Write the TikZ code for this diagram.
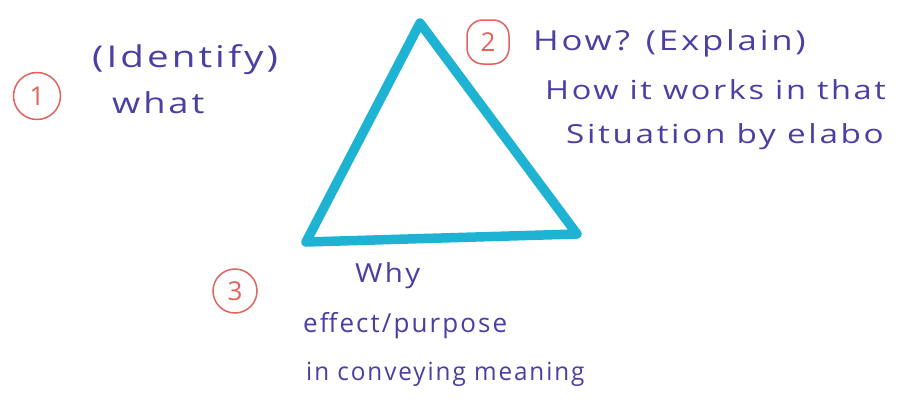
\documentclass[tikz,border=0pt]{standalone}
\usepackage{fontspec}
\newfontfamily\hand[LetterSpace=8]{Open Sans}
\definecolor{ink}{HTML}{4A3FA3}
\definecolor{marker}{HTML}{1FB3D3}
\definecolor{redpen}{HTML}{E2625C}
\newcommand{\hsc}[3]{\scalebox{#1}[#2]{#3}}
\tikzset{
  txt/.style={anchor=west, inner sep=0pt, text=ink, font=\hand\fontsize{25}{30}\selectfont},
  num/.style={circle, draw=redpen, line width=1.5pt, text=redpen, minimum size=40pt, inner sep=0pt, font=\hand\fontsize{26}{30}\selectfont},
  tri/.style={draw=marker, line width=9.5pt, line join=round, line cap=round}
}
\begin{document}
\begin{tikzpicture}[x=1pt,y=-1pt]
\useasboundingbox (0,0) rectangle (905,405);
\fill[white] (0,0) rectangle (905,405);
% triangle
\coordinate (A) at (420,23);
\coordinate (B) at (306,242);
\coordinate (C) at (577,234);
\draw[tri] (A) -- (C) -- (B) -- cycle;
% numbers
\node[num, minimum width=40pt, minimum height=47pt] (n1) at (37,96) {1};
\node[num, minimum width=42pt, minimum height=44pt, rounded corners=16pt, rectangle] (n2) at (488,42) {2};
\node[num, minimum width=41pt, minimum height=44pt] (n3) at (235,291) {3};
% texts
\node[txt] (t1a) at (92,60) {\hsc{1.54}{1.2}{(Identify)}};
\node[txt] (t1b) at (112,103) {\hsc{1.45}{1.15}{what}};
\node[txt] (t2a) at (533,43) {\hsc{1.39}{1.1}{How? (Explain)}};
\node[txt] (t2b) at (545,90) {\hsc{1.30}{1.05}{How it works in that}};
\node[txt] (t2c) at (566,137) {\hsc{1.33}{1.05}{Situation by elabo}};
\node[txt] (t3a) at (355,276) {\hsc{1.18}{1.05}{Why}};
\node[txt] (t3b) at (303,326) {\hsc{1.04}{1.05}{effect/purpose}};
\node[txt] (t3c) at (306,374) {\hsc{0.97}{1.0}{in conveying meaning}};
\end{tikzpicture}
\end{document}
